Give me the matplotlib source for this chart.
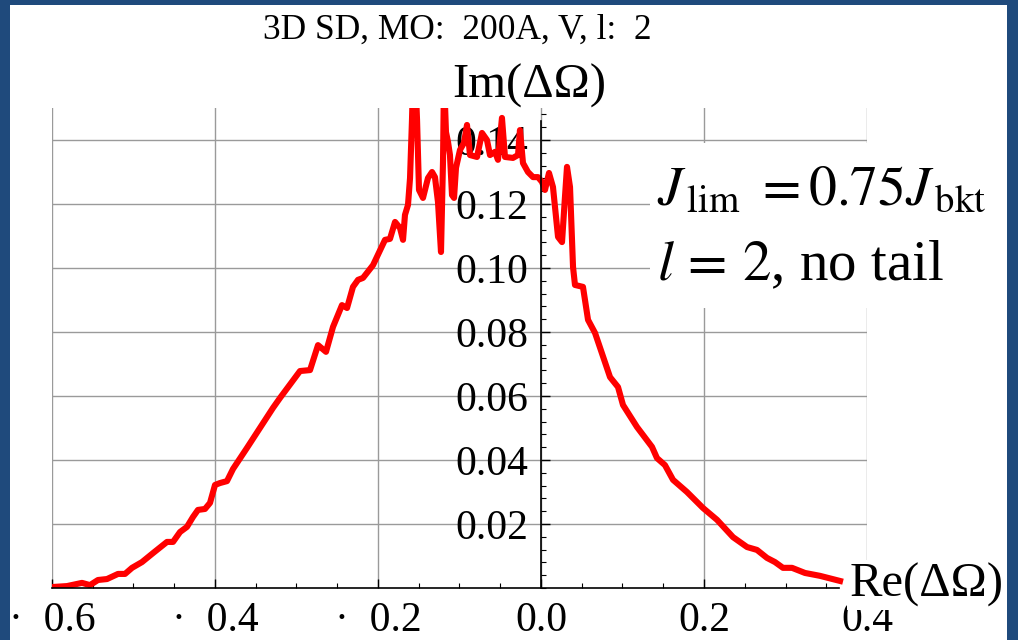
import numpy as np
import matplotlib
matplotlib.use('Agg')
import matplotlib.pyplot as plt
from matplotlib.patches import Rectangle
from matplotlib.ticker import MultipleLocator, FixedLocator, FixedFormatter

plt.rcParams['font.family'] = ['Liberation Serif', 'DejaVu Serif']
plt.rcParams['mathtext.fontset'] = 'stix'

# Re(dOmega) and Im(dOmega)
re_vals = [-0.600, -0.5816, -0.5632, -0.5534, -0.5436, -0.5325, -0.5190, -0.5104, -0.5018, -0.4896,
           -0.4761, -0.4589, -0.4515, -0.4429, -0.4344, -0.4270, -0.4209, -0.4123, -0.4061, -0.4000,
           -0.3939, -0.3853, -0.3779, -0.3607, -0.3288, -0.3202, -0.2957, -0.2834, -0.2736, -0.2638,
           -0.2552, -0.2442, -0.2380, -0.2307, -0.2245, -0.2184, -0.2061, -0.1914, -0.1853, -0.1791,
           -0.1730, -0.1693, -0.1669, -0.1632, -0.1607, -0.1583, -0.1558, -0.1521, -0.1497, -0.1448,
           -0.1387, -0.1337, -0.1301, -0.1264, -0.1227, -0.1202, -0.1190, -0.1166, -0.1141, -0.1117,
           -0.1092, -0.1067, -0.1043, -0.0994, -0.0945, -0.0908, -0.0871, -0.0785, -0.0724, -0.0663,
           -0.0626, -0.0564, -0.0528, -0.0479, -0.0442, -0.0344, -0.0282, -0.0258, -0.0221, -0.0160,
           -0.0098, -0.0037, 0.0012, 0.0049, 0.0098, 0.0147, 0.0209, 0.0258, 0.0294, 0.0319,
           0.0356, 0.0393, 0.0417, 0.0515, 0.0577, 0.0663, 0.0847, 0.0945, 0.1006, 0.1178,
           0.1362, 0.1423, 0.1521, 0.1620, 0.1791, 0.1988, 0.2160, 0.2356, 0.2528, 0.2650,
           0.2773, 0.2871, 0.2969, 0.3080, 0.3239, 0.3423, 0.3669]
im_vals = [0.0003, 0.0006, 0.0016, 0.0009, 0.0025, 0.0028, 0.0044, 0.0044, 0.0063, 0.0081,
           0.0109, 0.0144, 0.0144, 0.0175, 0.0191, 0.0222, 0.0244, 0.0247, 0.0266, 0.0322,
           0.0328, 0.0334, 0.0372, 0.0438, 0.0563, 0.0594, 0.0678, 0.0681, 0.0759, 0.0738,
           0.0816, 0.0884, 0.0875, 0.0941, 0.0963, 0.0969, 0.1009, 0.1088, 0.1091, 0.1144,
           0.1125, 0.1088, 0.1166, 0.1197, 0.1281, 0.1463, 0.1700, 0.1463, 0.1244, 0.1219,
           0.1281, 0.1300, 0.1284, 0.1206, 0.1050, 0.1338, 0.1600, 0.1425, 0.1394, 0.1353,
           0.1228, 0.1219, 0.1313, 0.1369, 0.1391, 0.1447, 0.1353, 0.1347, 0.1422, 0.1400,
           0.1353, 0.1363, 0.1338, 0.1469, 0.1347, 0.1344, 0.1353, 0.1431, 0.1328, 0.1300,
           0.1284, 0.1284, 0.1269, 0.1244, 0.1297, 0.1253, 0.1097, 0.1081, 0.1222, 0.1316,
           0.1253, 0.1003, 0.0947, 0.0941, 0.0838, 0.0797, 0.0659, 0.0628, 0.0572, 0.0503,
           0.0441, 0.0406, 0.0384, 0.0338, 0.0300, 0.0250, 0.0213, 0.0159, 0.0128, 0.0119,
           0.0094, 0.0081, 0.0063, 0.0063, 0.0047, 0.0038, 0.0022]

x_ticks = [-0.6, -0.4, -0.2, 0.0, 0.2, 0.4]
x_labels = ['\u00b7  0.6', '\u00b7  0.4', '\u00b7  0.2', '0.0', '0.2', '0.4']
y_ticks = [0.02, 0.04, 0.06, 0.08, 0.10, 0.12, 0.14]
y_labels = ['0.02', '0.04', '0.06', '0.08', '0.10', '0.12', '0.14']

W, H = 1018, 640
fig = plt.figure(figsize=(W / 100, H / 100), dpi=100)
fig.patch.set_facecolor('#1F4A7C')
# white slide area inside the blue frame
fig.patches.append(Rectangle((10 / W, 0), (1007 - 10) / W, 1 - 5 / H, transform=fig.transFigure,
                             facecolor='white', edgecolor='none', zorder=-10))

ax = fig.add_axes([52 / W, 1 - 588 / H, (867 - 52) / W, (588 - 108) / H])
ax.patch.set_alpha(0)
ax.set_xlim(-0.6, 0.4)
ax.set_ylim(0, 0.15)

ax.plot(re_vals, im_vals, color='#ff0000', linewidth=4.4, solid_joinstyle='round', zorder=2)

# axes through the origin
for s in ['top', 'right']:
    ax.spines[s].set_visible(False)
ax.spines['left'].set_position(('data', 0))
ax.spines['left'].set_bounds(0, 0.146)
ax.spines['bottom'].set_bounds(-0.6, 0.366)
for s in ['left', 'bottom']:
    ax.spines[s].set_linewidth(1.2)
    ax.spines[s].set_zorder(3)

ax.xaxis.set_major_locator(FixedLocator(x_ticks))
ax.xaxis.set_major_formatter(FixedFormatter(x_labels))
ax.xaxis.set_minor_locator(MultipleLocator(0.05))
ax.yaxis.set_major_locator(FixedLocator(y_ticks))
ax.yaxis.set_major_formatter(FixedFormatter(y_labels))
ax.yaxis.set_minor_locator(MultipleLocator(0.004))

ax.tick_params(axis='both', which='major', direction='in', length=6.5, width=1.0, labelsize=30)
ax.tick_params(axis='both', which='minor', direction='in', length=3.5, width=0.8)
ax.tick_params(axis='x', which='major', pad=10)
ax.tick_params(axis='y', which='major', pad=9)
for lab in ax.get_yticklabels():
    lab.set_zorder(4)

ax.grid(True, which='major', color='#9a9a9a', linewidth=1.0)
ax.set_axisbelow(True)

# titles and axis names
fig.text(457 / W, 1 - 30 / H, '3D SD, MO:  200A, V, l:  2', ha='center', va='center', fontsize=25.5)
fig.text(529 / W, 1 - 86 / H, 'Im(\u0394\u03a9)', ha='center', va='center', fontsize=35)
fig.text(927 / W, 1 - 585 / H, 'Re(\u0394\u03a9)', ha='center', va='center', fontsize=35,
         bbox=dict(facecolor='white', edgecolor='none', pad=2), zorder=5)

# annotation box
fig.patches.append(Rectangle((650 / W, 1 - 308 / H), (985 - 650) / W, (308 - 143) / H,
                             transform=fig.transFigure, facecolor='white', edgecolor='none', zorder=4))
fig.text(657 / W, 1 - 190 / H, r'$J_{\,\mathrm{lim}}\ = 0.75J_{\,\mathrm{bkt}}$', ha='left', va='center',
         fontsize=40, zorder=6)
fig.text(657 / W, 1 - 266 / H, r'$l\, =\, 2$, no tail', ha='left', va='center', fontsize=41, zorder=6)

fig.savefig('out.png', dpi=100, facecolor=fig.get_facecolor())
